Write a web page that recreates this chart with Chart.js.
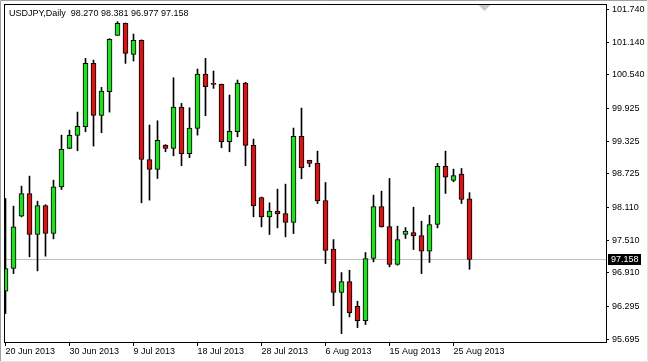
<!DOCTYPE html>
<html>
<head>
<meta charset="utf-8">
<title>USDJPY Daily</title>
<script src="https://cdn.jsdelivr.net/npm/chart.js@4.4.0/dist/chart.umd.min.js"></script>
<style>
  html, body { margin: 0; padding: 0; background: #fff; }
  #wrap { position: relative; width: 648px; height: 362px; }
</style>
</head>
<body>
<div id="wrap"><canvas id="chart"></canvas></div>
<script>
// --- data ---
const symbol = 'USDJPY,Daily';

const dates = [
  '20 Jun 2013', '21 Jun 2013', '23 Jun 2013', '24 Jun 2013', '25 Jun 2013', '26 Jun 2013', '27 Jun 2013', '28 Jun 2013',
  '30 Jun 2013', '1 Jul 2013', '2 Jul 2013', '3 Jul 2013', '4 Jul 2013', '5 Jul 2013', '7 Jul 2013', '8 Jul 2013',
  '9 Jul 2013', '10 Jul 2013', '11 Jul 2013', '12 Jul 2013', '14 Jul 2013', '15 Jul 2013', '16 Jul 2013', '17 Jul 2013',
  '18 Jul 2013', '19 Jul 2013', '21 Jul 2013', '22 Jul 2013', '23 Jul 2013', '24 Jul 2013', '25 Jul 2013', '26 Jul 2013',
  '28 Jul 2013', '29 Jul 2013', '30 Jul 2013', '31 Jul 2013', '1 Aug 2013', '2 Aug 2013', '4 Aug 2013', '5 Aug 2013',
  '6 Aug 2013', '7 Aug 2013', '8 Aug 2013', '9 Aug 2013', '11 Aug 2013', '12 Aug 2013', '13 Aug 2013', '14 Aug 2013',
  '15 Aug 2013', '16 Aug 2013', '18 Aug 2013', '19 Aug 2013', '20 Aug 2013', '21 Aug 2013', '22 Aug 2013', '23 Aug 2013',
  '25 Aug 2013', '26 Aug 2013', '27 Aug 2013'
];

const opens = [
  96.575, 96.991, 97.950, 98.366, 97.614, 98.146, 97.632, 98.488, 99.191, 99.429,
  99.588, 100.749, 99.796, 100.230, 101.263, 101.483, 100.914, 101.171, 98.989, 98.806,
  99.252, 99.191, 99.949, 99.093, 99.558, 100.554, 100.370, 100.364, 99.313, 99.496,
  100.389, 99.246, 98.292, 97.938, 98.042, 97.999, 97.834, 99.411, 98.971, 98.916,
  98.237, 97.345, 96.551, 96.752, 96.300, 96.037, 97.174, 98.127, 97.761, 97.064,
  97.614, 97.651, 97.596, 97.308, 97.797, 98.861, 98.604, 98.720, 98.270
];
const highs = [
  98.274, 98.134, 98.500, 98.684, 98.225, 98.160, 98.610, 99.435, 99.527, 99.857,
  100.841, 100.810, 100.309, 101.202, 101.513, 101.490, 101.287, 101.180, 99.619, 99.698,
  99.260, 100.486, 100.016, 99.936, 100.645, 100.841, 100.609, 100.370, 100.169, 100.444,
  100.401, 99.362, 98.300, 98.195, 98.445, 98.537, 99.564, 99.930, 98.975, 99.142,
  98.567, 97.522, 96.917, 96.960, 96.392, 97.284, 98.335, 98.409, 98.641, 97.767,
  97.742, 98.115, 97.858, 97.968, 98.916, 99.142, 98.812, 98.824, 98.381
];
const lows = [
  96.166, 96.899, 97.938, 97.205, 96.948, 97.217, 97.535, 98.439, 99.185, 99.148,
  99.496, 99.234, 99.478, 99.857, 101.263, 100.749, 100.792, 98.195, 98.244, 98.641,
  99.130, 99.056, 98.873, 99.020, 99.435, 99.790, 100.291, 99.203, 99.130, 99.405,
  98.873, 97.938, 97.755, 97.614, 97.736, 97.571, 97.632, 98.635, 98.855, 98.182,
  97.082, 96.312, 95.799, 96.104, 95.909, 95.964, 97.113, 97.750, 97.021, 97.052,
  97.541, 97.339, 96.899, 97.101, 97.736, 98.366, 98.580, 98.182, 96.977
];
const closes = [
  96.991, 97.755, 98.366, 97.614, 98.146, 97.632, 98.488, 99.173, 99.429, 99.594,
  100.749, 99.796, 100.242, 101.189, 101.483, 100.933, 101.171, 98.989, 98.806, 99.338,
  99.191, 99.949, 99.093, 99.564, 100.554, 100.321, 100.365, 99.313, 99.503, 100.389,
  99.246, 98.140, 97.938, 98.042, 97.993, 97.834, 99.411, 98.836, 98.916, 98.231,
  97.321, 96.551, 96.752, 96.184, 96.037, 97.174, 98.127, 97.755, 97.064, 97.522,
  97.675, 97.590, 97.308, 97.797, 98.861, 98.665, 98.696, 98.256, 97.158
];

const priceTicks = [101.740, 101.140, 100.540, 99.925, 99.325, 98.725, 98.110, 97.510, 96.910, 96.295, 95.695];
const dateTickIdx = [0, 8, 16, 24, 32, 40, 48, 56];

const BULL = '#22dd22';
const BEAR = '#d41515';
const FONT = { family: "'Liberation Sans', Arial, sans-serif", size: 9 };

const last = closes.length - 1;

// MT4-ish chrome: frame, bid line, bid box, header text, shift marker
const mtChrome = {
  id: 'mtChrome',
  beforeDatasetsDraw(chart) {
    const { ctx, chartArea: a, scales: { y } } = chart;
    const yb = Math.round(y.getPixelForValue(closes[last])) + 0.5;
    ctx.save();
    ctx.strokeStyle = '#c0c0c0';
    ctx.lineWidth = 1;
    ctx.beginPath();
    ctx.moveTo(a.left, yb);
    ctx.lineTo(a.right, yb);
    ctx.stroke();
    ctx.restore();
  },
  afterDraw(chart) {
    const { ctx, chartArea: a, scales: { x, y }, width, height } = chart;
    ctx.save();
    // outer window edge
    ctx.strokeStyle = '#a0a0a0';
    ctx.lineWidth = 1;
    ctx.beginPath();
    ctx.moveTo(0.5, height); ctx.lineTo(0.5, 0.5); ctx.lineTo(width, 0.5);
    ctx.stroke();
    ctx.strokeStyle = '#e4e4e4';
    ctx.beginPath();
    ctx.moveTo(0, height - 0.5); ctx.lineTo(width - 0.5, height - 0.5); ctx.lineTo(width - 0.5, 0);
    ctx.stroke();

    // plot frame
    ctx.strokeStyle = '#000';
    ctx.strokeRect(a.left + 0.5, a.top + 0.5, a.right - a.left, a.bottom - a.top);

    // shift marker
    const sx = Math.round(x.getPixelForValue(last + 1.8)) + 0.5;
    ctx.fillStyle = '#c8c8c8';
    ctx.beginPath();
    ctx.moveTo(sx - 6, a.top + 1);
    ctx.lineTo(sx + 6, a.top + 1);
    ctx.lineTo(sx, a.top + 7);
    ctx.closePath();
    ctx.fill();

    // header
    ctx.font = `${FONT.size}px ${FONT.family}`;
    ctx.fillStyle = '#000';
    ctx.textBaseline = 'middle';
    ctx.textAlign = 'left';
    const hdr = `${symbol}  ${opens[last].toFixed(3)} ${highs[last].toFixed(3)} ${lows[last].toFixed(3)} ${closes[last].toFixed(3)}`;
    ctx.fillText(hdr, a.left + 5, a.top + 9.5);

    // bid box on the price axis
    const yb = Math.round(y.getPixelForValue(closes[last]));
    const txt = closes[last].toFixed(3);
    ctx.fillStyle = '#000';
    ctx.fillRect(a.right + 2, yb - 5, 33, 11);
    ctx.fillStyle = '#fff';
    ctx.fillText(txt, a.right + 5, yb + 0.5);
    ctx.restore();
  }
};

const wickData = lows.map((l, i) => ({ x: i, y: [l, highs[i]] }));
const bodyData = opens.map((o, i) => ({ x: i, y: [o, closes[i]] }));
const bodyColors = opens.map((o, i) => (closes[i] >= o ? BULL : BEAR));

new Chart(document.getElementById('chart'), {
  type: 'bar',
  data: {
    datasets: [
      {
        label: 'wick',
        data: wickData,
        backgroundColor: '#000',
        barThickness: 1,
        grouped: false,
        order: 2
      },
      {
        label: 'body',
        data: bodyData,
        backgroundColor: bodyColors,
        borderColor: '#000',
        borderWidth: 1,
        borderSkipped: false,
        barThickness: 5,
        minBarLength: 1,
        grouped: false,
        order: 1
      }
    ]
  },
  options: {
    responsive: true,
    maintainAspectRatio: false,
    animation: false,
    layout: { padding: { left: 4, top: 4, right: 0, bottom: 0 } },
    plugins: {
      legend: { display: false },
      tooltip: { enabled: false },
      title: { display: false }
    },
    scales: {
      x: {
        type: 'linear',
        offset: false,
        min: -0.1875,
        max: -0.1875 + 602 / 8,
        grid: { offset: false, drawOnChartArea: false, drawTicks: true, tickLength: 4, color: '#000' },
        border: { display: false },
        afterBuildTicks: (s) => { s.ticks = dateTickIdx.map(v => ({ value: v })); },
        afterFit: (s) => { s.height = 20; s.paddingLeft = 0; s.paddingRight = 0; },
        ticks: {
          autoSkip: false,
          maxRotation: 0,
          align: 'start',
          padding: 0,
          color: '#000',
          font: FONT,
          callback: (v) => dates[v]
        }
      },
      y: {
        position: 'right',
        min: 95.645,
        max: 101.837,
        grid: { drawOnChartArea: false, drawTicks: true, tickLength: 3, color: '#000' },
        border: { display: false },
        afterBuildTicks: (s) => { s.ticks = priceTicks.map(v => ({ value: v })); },
        afterFit: (s) => { s.width = 42; s.paddingTop = 0; s.paddingBottom = 0; },
        ticks: {
          autoSkip: false,
          padding: 3,
          color: '#000',
          font: FONT,
          callback: (v) => Number(v).toFixed(3)
        }
      }
    }
  },
  plugins: [mtChrome]
});
</script>
</body>
</html>
